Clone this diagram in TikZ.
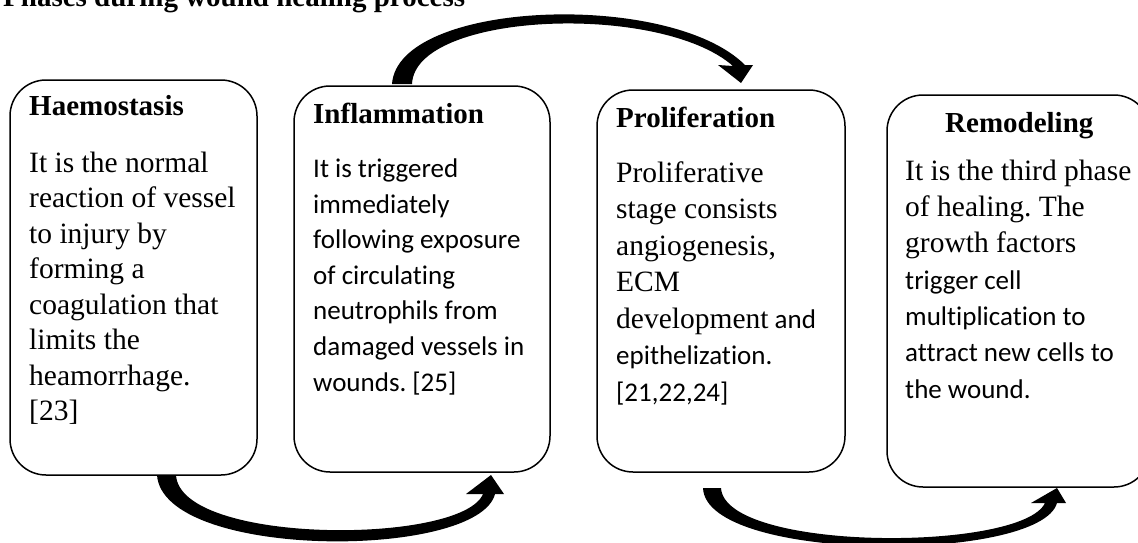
\documentclass[tikz,border=0pt]{standalone}
\usepackage{fontspec}
\setmainfont{Liberation Serif}
\newfontfamily\calfont[Ligatures=NoCommon]{Carlito}
\newcommand{\calsz}{\calfont\fontsize{27}{33}\selectfont}
\frenchspacing
\begin{document}
\begin{tikzpicture}[x=1pt,y=-1pt,
  phase/.style={draw, line width=1.5pt, rounded corners=36pt, inner sep=0pt},
  ttl/.style={anchor=base west, inner sep=0pt, font=\fontsize{29}{34}\selectfont\bfseries},
  tms/.style={anchor=base west, inner sep=0pt, font=\fontsize{29.5}{35}\selectfont},
  cal/.style={anchor=base west, inner sep=0pt, font=\calsz},
  flow/.style={fill=black}]
\useasboundingbox (0,0) rectangle (1138,542);
\clip (0,0) rectangle (1138,542);
% title
\node[ttl] (title) at (3,6) {Phases during wound healing process};
% boxes
\node[phase, minimum width=247pt, minimum height=395pt] (b1) at (133.5,277.5) {};
\node[phase, minimum width=256pt, minimum height=386pt] (b2) at (422,279) {};
\node[phase, minimum width=248pt, minimum height=382pt] (b3) at (721,281) {};
\node[phase, minimum width=263pt, minimum height=392pt] (b4) at (1018.5,291) {};
% headings
\node[ttl] (t1) at (29,115) {Haemostasis};
\node[ttl] (t2) at (313,123) {Inflammation};
\node[ttl] (t3) at (616,127) {Proliferation};
\node[ttl] (t4) at (945,132) {Remodeling};
% Haemostasis text
\foreach \s [count=\i from 0] in {It is the normal, reaction of vessel, to injury by, forming a, coagulation that, limits the, heamorrhage., [23]}
  \node[tms] (h\i) at (29,{172+35.5*\i}) {\s};
% Inflammation text
\foreach \s [count=\i from 0] in {It is triggered, immediately, following exposure, of circulating, neutrophils from, damaged vessels in, {wounds. [25]}}
  \node[cal] (f\i) at (313,{177.5+35.6*\i}) {\s};
% Proliferation text
\node[tms] (p0) at (616,182) {Proliferative};
\node[tms] (p1) at (616,218.5) {stage consists};
\node[tms] (p2) at (616,255) {angiogenesis,};
\node[tms] (p3) at (616,291.5) {ECM};
\node[tms] (p4) at (616,328) {development{\calsz{} and}};
\node[cal] (p5) at (616,364.5) {epithelization.};
\node[cal] (p6) at (616,401) {[21,22,24]};
% Remodeling text
\node[tms] (r0) at (905,180) {It is the third phase};
\node[tms] (r1) at (905,216.3) {of healing. The};
\node[tms] (r2) at (905,252.6) {growth factors};
\node[cal] (r3) at (905,289) {trigger cell};
\node[cal] (r4) at (905,325.3) {multiplication to};
\node[cal] (r5) at (905,361.6) {attract new cells to};
\node[cal] (r6) at (905,398) {the wound.};
% top curved arrow: Inflammation -> Proliferation
\fill[flow] (392,84) .. controls (398,0) and (670,-10) .. (745,65)
  -- (753,65) -- (741,83) -- (718,65) -- (733,66)
  .. controls (660,2) and (415,12) .. (412,84) -- cycle;
% bottom arrow 1: Haemostasis -> Inflammation
\fill[flow] (157,475) .. controls (163,560) and (478,560) .. (495,494)
  -- (504,494) -- (491,475) -- (466,494) -- (483,494)
  .. controls (462,545) and (180,545) .. (176,475) -- cycle;
% bottom arrow 2: Proliferation -> Remodeling
\fill[flow] (703,488) .. controls (706,563) and (1040,563) .. (1057,503)
  -- (1066,503) -- (1057,488) -- (1031,503) -- (1045,503)
  .. controls (1022,552) and (725,552) .. (721,488) -- cycle;
\end{tikzpicture}
\end{document}
